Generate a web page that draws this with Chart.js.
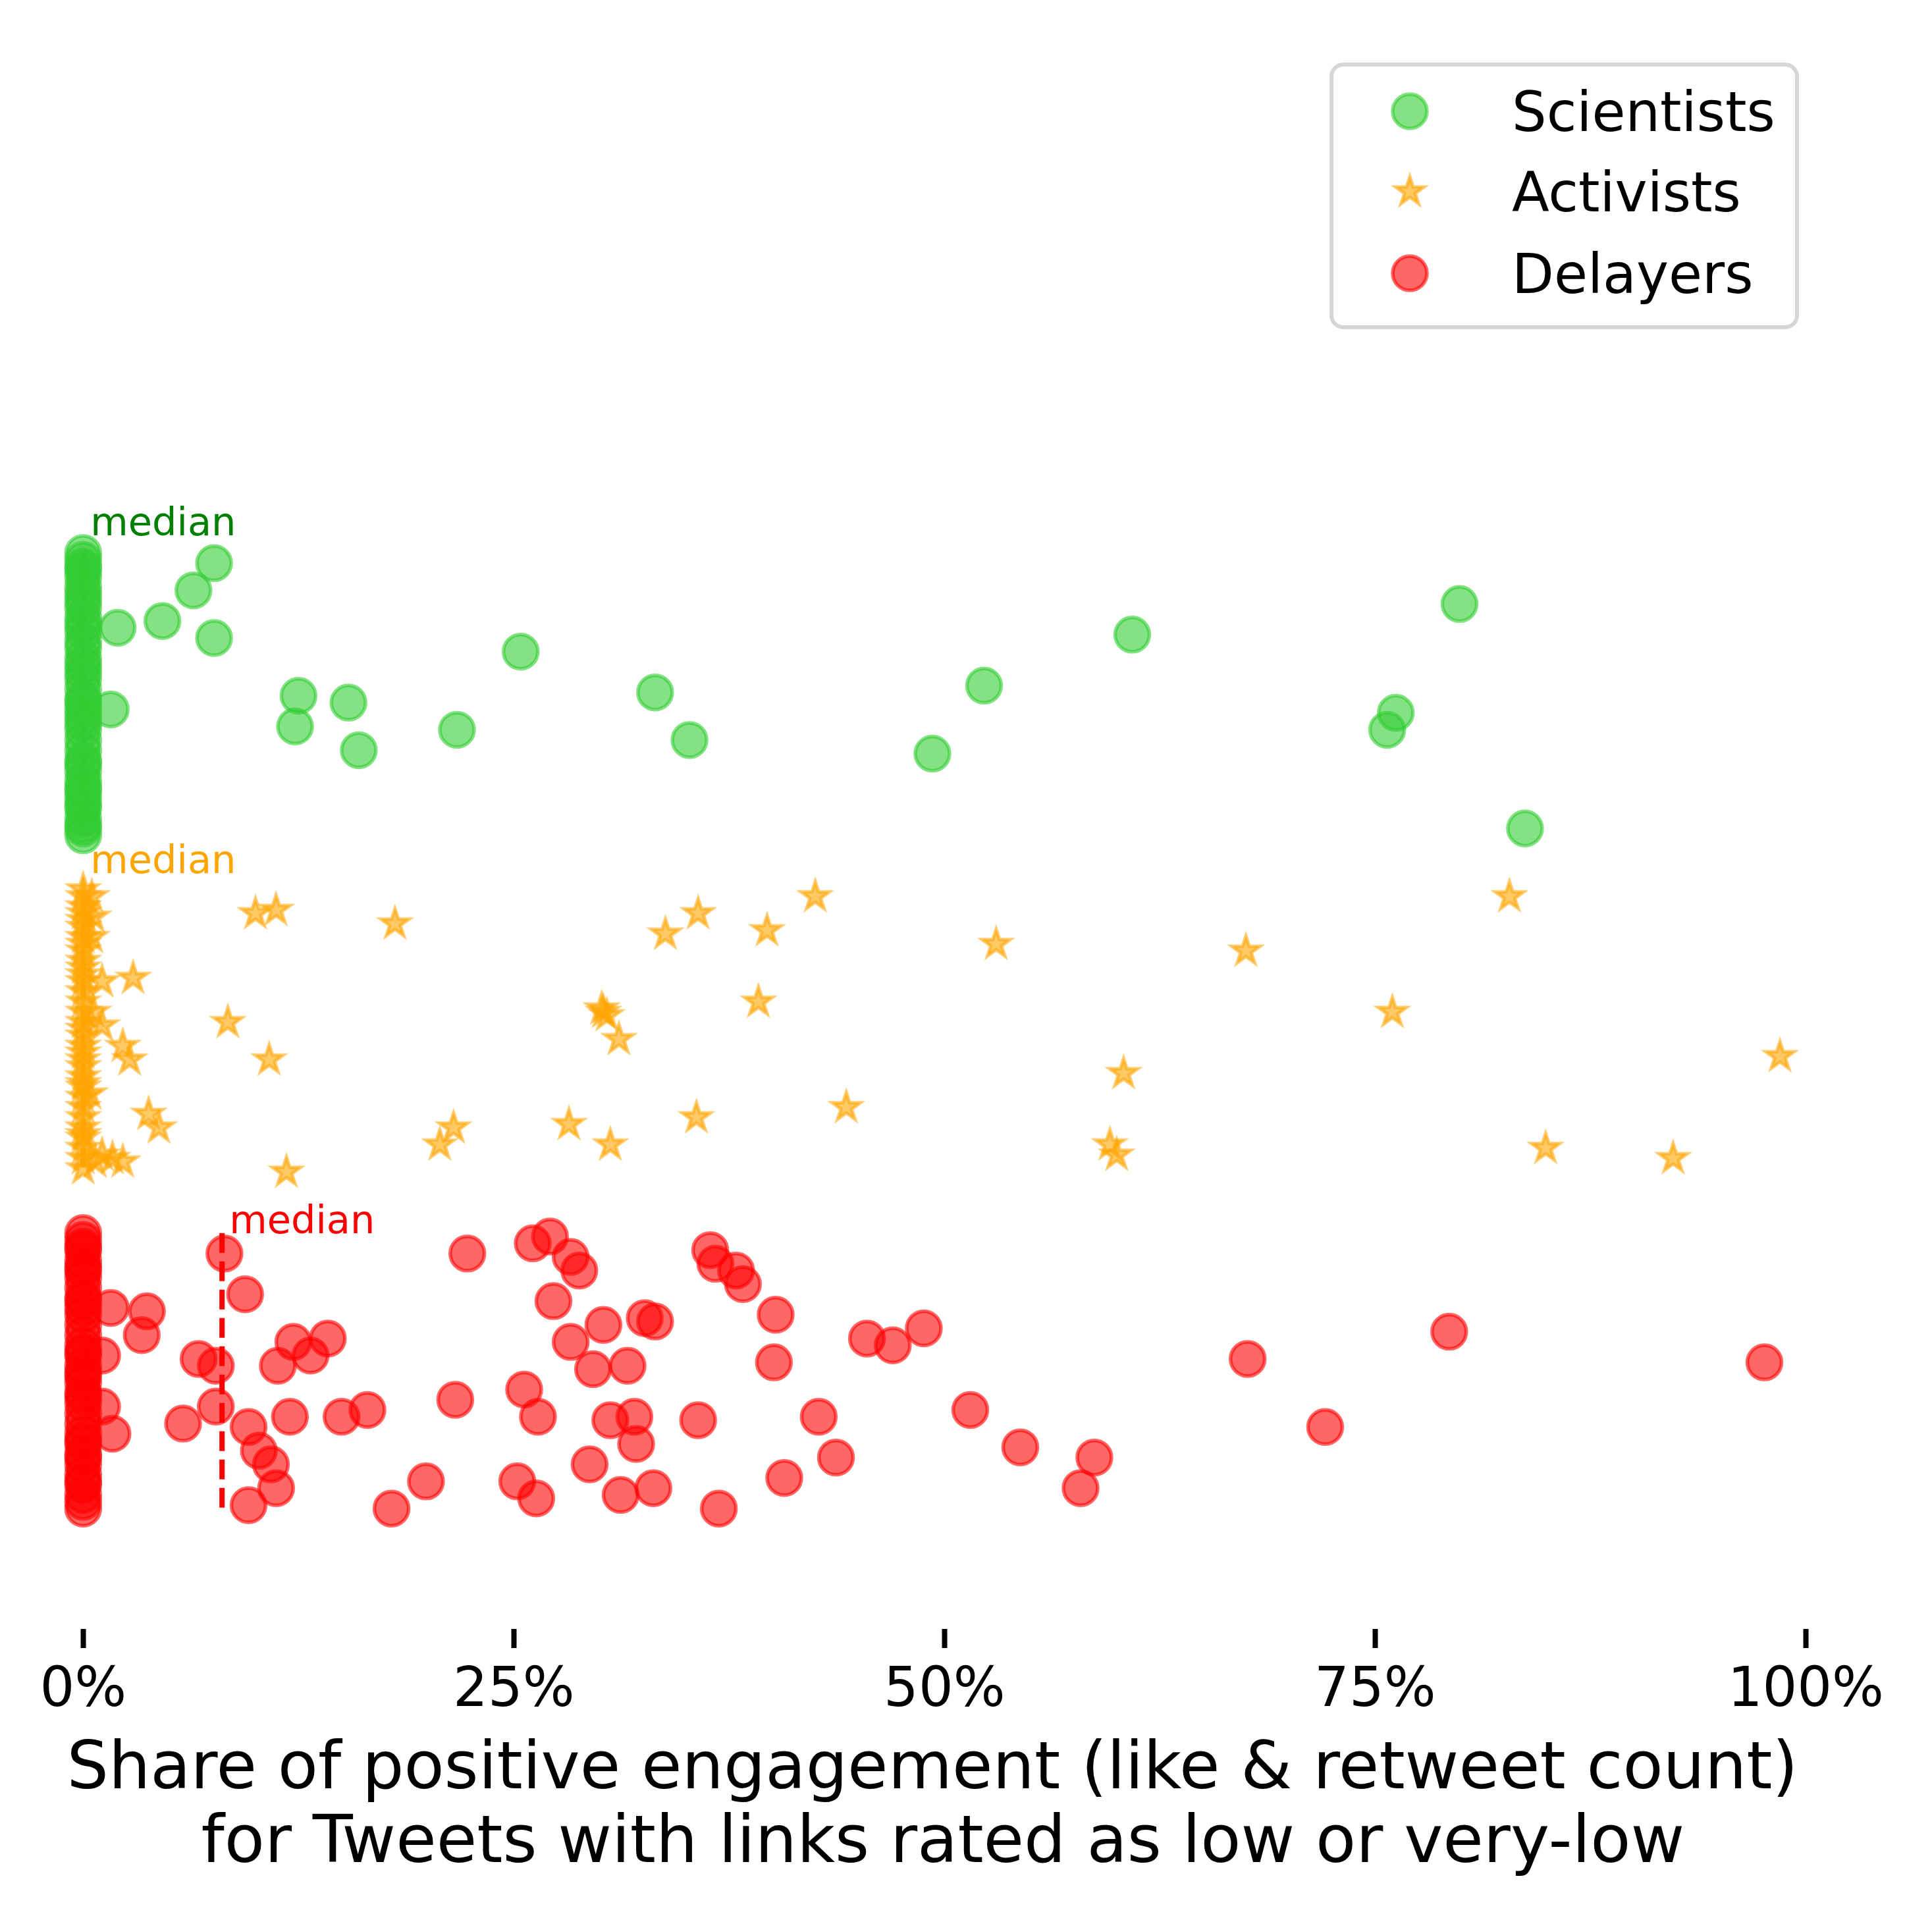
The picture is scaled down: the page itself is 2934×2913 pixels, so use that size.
<!DOCTYPE html>
<html>
<head>
<meta charset="utf-8">
<script src="https://cdn.jsdelivr.net/npm/chart.js@4.4.1/dist/chart.umd.min.js"></script>
<style>
  html, body { margin: 0; padding: 0; background: #fff; overflow: hidden; }
  canvas { display: block; }
</style>
</head>
<body>
<canvas id="chart" width="2934" height="2913"></canvas>
<script>
// groups (legend order) and their row on the hidden y axis
const groups = ['Scientists', 'Activists', 'Delayers'];
const groupPos = [3, 2, 1];

// x axis ticks, in %
const xTicks = [0, 25, 50, 75, 100];

// median share per group, in %
const medians = [0, 0, 8.06];

// Scientists: tweets at 0% (jittered rows) and the rest
const sciZeroY = [3.41, 3.39, 3.36, 3.34, 3.31, 3.27, 3.25, 3.22, 3.18, 3.15, 3.13, 3.10, 3.06, 3.04, 3.01,
  2.98, 2.95, 2.91, 2.89, 2.86, 2.83, 2.80, 2.77, 2.74, 2.72, 2.69, 2.66, 2.63, 2.61, 2.58,
  3.37, 3.20, 3.08, 2.93, 2.79, 2.67, 2.60, 3.29, 2.97, 2.71];
const sciX = [7.6, 6.4, 2.0, 4.6, 7.6, 1.6, 12.5, 12.3, 15.4, 16.0, 21.7, 25.4, 33.2, 35.2, 49.3,
  52.3, 60.9, 79.9, 76.2, 75.7, 83.7];
const sciY = [3.38, 3.30, 3.19, 3.21, 3.16, 2.95, 2.99, 2.90, 2.97, 2.83, 2.89, 3.12, 3.00, 2.86, 2.82,
  3.02, 3.17, 3.26, 2.94, 2.89, 2.60];

// Activists
const actZeroY = [2.42, 2.40, 2.37, 2.33, 2.31, 2.28, 2.24, 2.21, 2.19, 2.15, 2.12, 2.09, 2.06, 2.03, 1.99,
  1.96, 1.94, 1.90, 1.87, 1.84, 1.81, 1.78, 1.75, 1.72, 1.69, 1.66, 1.63, 1.60,
  2.35, 2.17, 2.01, 1.85, 1.70, 2.26, 1.92];
const actX = [2.9, 1.1, 1.1, 2.3, 2.7, 3.8, 4.4, 1.1, 2.3, 1.7,
  10.0, 11.2, 18.1, 8.4, 10.8, 11.8, 20.7, 21.5, 28.2, 30.6,
  30.1, 30.4, 30.2, 31.1, 33.8, 35.7, 35.6, 39.2, 39.7, 42.5,
  44.3, 53.0, 60.4, 59.6, 60.0, 67.5, 76.0, 82.8, 84.9, 92.3,
  98.5, 0.5, 0.6, 0.5, 0.6, 0.4, 0.7];
const actY = [2.16, 2.15, 2.02, 1.96, 1.92, 1.76, 1.72, 1.64, 1.62, 1.63,
  2.35, 2.36, 2.32, 2.03, 1.92, 1.59, 1.67, 1.72, 1.73, 1.67,
  2.07, 2.05, 2.06, 1.98, 2.29, 2.35, 1.75, 2.09, 2.30, 2.40,
  1.78, 2.26, 1.88, 1.67, 1.64, 2.24, 2.06, 2.40, 1.66, 1.63,
  1.93, 2.40, 2.34, 2.28, 2.06, 1.82, 1.62];

// Delayers
const delZeroY = [1.41, 1.39, 1.36, 1.33, 1.31, 1.28, 1.25, 1.22, 1.19, 1.17, 1.14, 1.11, 1.08, 1.05, 1.02,
  0.99, 0.97, 0.94, 0.91, 0.88, 0.85, 0.82, 0.79, 0.76, 0.73, 0.70, 0.67, 0.64, 0.62, 0.60,
  1.37, 1.21, 1.06, 0.93, 0.80, 0.68, 1.30, 1.00, 0.75];
const delX = [1.6, 1.1, 1.1, 1.7, 3.7, 3.4, 5.8, 8.2, 9.4, 6.7,
  7.7, 7.7, 9.6, 10.2, 10.9, 11.2, 9.6, 11.3, 12.2, 13.2,
  14.2, 12.0, 15.0, 16.5, 17.9, 19.9, 21.6, 22.3, 25.2, 25.6,
  26.4, 26.3, 26.1, 27.1, 27.3, 28.3, 28.8, 28.3, 29.6, 29.4,
  30.2, 30.6, 31.2, 31.6, 32.0, 32.1, 32.6, 33.2, 33.1, 35.7,
  36.4, 36.7, 36.9, 37.9, 38.3, 40.2, 40.1, 40.7, 42.7, 43.7,
  45.5, 47.0, 48.8, 51.5, 54.4, 58.7, 57.9, 67.6, 72.1, 79.3,
  97.6];
const delY = [1.19, 1.05, 0.90, 0.82, 1.18, 1.11, 0.85, 1.35, 1.23, 1.04,
  1.02, 0.90, 0.84, 0.77, 0.73, 0.66, 0.61, 1.02, 1.09, 1.05,
  1.10, 0.87, 0.87, 0.89, 0.60, 0.68, 0.92, 1.35, 0.68, 0.95,
  0.87, 0.63, 1.38, 1.40, 1.21, 1.34, 1.30, 1.09, 1.01, 0.73,
  1.14, 0.86, 0.64, 1.02, 0.87, 0.79, 1.16, 1.15, 0.66, 0.86,
  1.36, 1.32, 0.60, 1.30, 1.26, 1.17, 1.03, 0.69, 0.87, 0.75,
  1.10, 1.08, 1.13, 0.89, 0.78, 0.75, 0.66, 1.04, 0.84, 1.12,
  1.03];

const FONT = 'DejaVu Sans';
const fills = ['rgba(50,205,50,0.6)', 'rgba(255,165,0,0.6)', 'rgba(255,0,0,0.6)'];
const medianColors = ['green', 'orange', 'red'];
const medianLabelY = [3.462, 2.469, 1.41];

function toPoints(zeroY, xs, ys) {
    const pts = zeroY.map(y => ({ x: 0, y: y }));
    xs.forEach((x, i) => pts.push({ x: x, y: ys[i] }));
    return pts;
}

// filled 5 point star, like matplotlib's '*' marker
function makeStar(color) {
    const c = document.createElement('canvas');
    c.width = 70; c.height = 70;
    const g = c.getContext('2d');
    const R = 22.5, r = R * 0.382;
    g.beginPath();
    for (let k = 0; k < 10; k++) {
        const rad = k % 2 ? r : R;
        const a = -Math.PI / 2 + k * Math.PI / 5;
        const px = 35 + rad * Math.cos(a), py = 35 + rad * Math.sin(a);
        if (k === 0) g.moveTo(px, py); else g.lineTo(px, py);
    }
    g.closePath();
    g.fillStyle = color;
    g.fill();
    g.lineJoin = 'miter';
    g.lineWidth = 5;
    g.strokeStyle = color;
    g.stroke();
    return c;
}
const star = makeStar(fills[1]);

// dashed median lines + "median" labels
const medianPlugin = {
    id: 'medians',
    beforeDatasetsDraw(chart) {
        const ctx = chart.ctx, xs = chart.scales.x, ys = chart.scales.y;
        ctx.save();
        ctx.lineWidth = 8;
        ctx.setLineDash([30, 13]);
        medians.forEach((m, i) => {
            const px = xs.getPixelForValue(m);
            ctx.strokeStyle = medianColors[i];
            ctx.beginPath();
            ctx.moveTo(px, ys.getPixelForValue(groupPos[i] + 0.41));
            ctx.lineTo(px, ys.getPixelForValue(groupPos[i] - 0.405));
            ctx.stroke();
        });
        ctx.restore();
    },
    afterDatasetsDraw(chart) {
        const ctx = chart.ctx, xs = chart.scales.x, ys = chart.scales.y;
        ctx.save();
        ctx.font = '59px "' + FONT + '"';
        ctx.textAlign = 'left';
        ctx.textBaseline = 'alphabetic';
        medians.forEach((m, i) => {
            ctx.fillStyle = medianColors[i];
            ctx.fillText('median', xs.getPixelForValue(m) + 11, ys.getPixelForValue(medianLabelY[i]));
        });
        ctx.restore();
    }
};

// matplotlib style legend box in the upper right corner
const legendPlugin = {
    id: 'boxLegend',
    afterDraw(chart) {
        const ctx = chart.ctx;
        ctx.save();
        ctx.beginPath();
        ctx.roundRect(2022, 98, 707, 399, 18);
        ctx.fillStyle = 'rgba(255,255,255,0.8)';
        ctx.fill();
        ctx.lineWidth = 6;
        ctx.strokeStyle = '#d6d6d6';
        ctx.stroke();

        const rows = [169, 291, 415];
        groups.forEach((name, i) => {
            const y = rows[i];
            if (i === 1) {
                ctx.drawImage(star, 2141 - 35, y - 35);
            } else {
                ctx.beginPath();
                ctx.arc(2141, y, 26, 0, Math.PI * 2);
                ctx.fillStyle = fills[i];
                ctx.fill();
                ctx.lineWidth = 5.5;
                ctx.strokeStyle = fills[i];
                ctx.stroke();
            }
            ctx.fillStyle = '#000';
            ctx.font = '83px "' + FONT + '"';
            ctx.textBaseline = 'alphabetic';
            ctx.fillText(name, 2296, y + 30);
        });
        ctx.restore();
    }
};

const pointBase = { pointRadius: 26, pointHoverRadius: 26, pointBorderWidth: 5.5, pointHoverBorderWidth: 5.5 };

new Chart(document.getElementById('chart').getContext('2d'), {
    type: 'scatter',
    data: {
        datasets: [
            Object.assign({
                label: groups[0],
                data: toPoints(sciZeroY, sciX, sciY),
                backgroundColor: fills[0],
                borderColor: fills[0],
                pointStyle: 'circle'
            }, pointBase),
            Object.assign({
                label: groups[1],
                data: toPoints(actZeroY, actX, actY),
                backgroundColor: fills[1],
                borderColor: fills[1],
                pointStyle: star
            }, pointBase),
            Object.assign({
                label: groups[2],
                data: toPoints(delZeroY, delX, delY),
                backgroundColor: fills[2],
                borderColor: fills[2],
                pointStyle: 'circle'
            }, pointBase)
        ]
    },
    options: {
        responsive: false,
        devicePixelRatio: 1,
        animation: false,
        events: [],
        layout: { padding: { left: 74, right: 176, top: 60, bottom: 0 } },
        plugins: {
            legend: { display: false },
            tooltip: { enabled: false }
        },
        scales: {
            x: {
                type: 'linear',
                min: -2,
                max: 100.6,
                border: { display: false },
                grid: {
                    display: true,
                    drawOnChartArea: false,
                    drawTicks: true,
                    tickLength: 29,
                    tickWidth: 8,
                    tickColor: '#000'
                },
                afterBuildTicks: scale => { scale.ticks = xTicks.map(v => ({ value: v })); },
                afterFit: scale => { scale.height = 439; },
                ticks: {
                    color: '#000',
                    padding: 17,
                    maxRotation: 0,
                    autoSkip: false,
                    font: { family: FONT, size: 83 },
                    callback: v => v + '%'
                },
                title: {
                    display: true,
                    text: ['Share of positive engagement (like & retweet count)',
                           ' for Tweets with links rated as low or very-low'],
                    color: '#000',
                    font: { family: FONT, size: 100, lineHeight: 1.12 },
                    padding: { top: 0, bottom: 55 }
                }
            },
            y: {
                type: 'linear',
                display: false,
                min: 0.246,
                max: 4.92
            }
        }
    },
    plugins: [medianPlugin, legendPlugin]
});
</script>
</body>
</html>
